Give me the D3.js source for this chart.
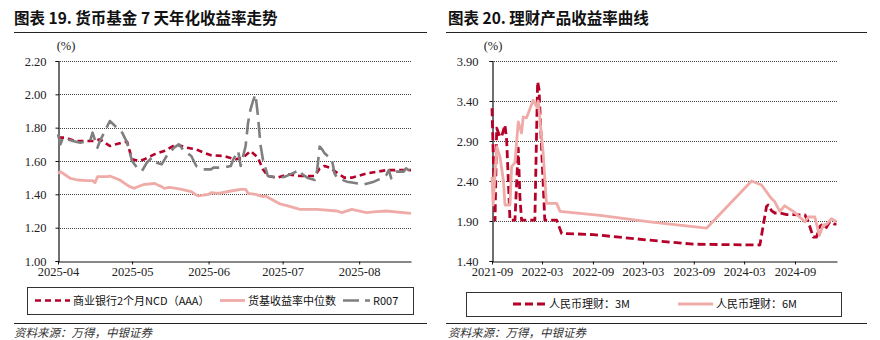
<!DOCTYPE html>
<html>
<head>
<meta charset="utf-8">
<script src="https://cdn.jsdelivr.net/npm/d3@7"></script>
<style>
  body { margin: 0; background: #fff; }
  svg { display: block; }
</style>
</head>
<body>
<svg id="chart" width="880" height="340"></svg>
<script>
// ---- Fig. 19: money-fund 7-day annualised yield (%) ----
const ncdDates = ["2025-04-01","2025-04-04","2025-04-08","2025-04-16","2025-04-18","2025-04-22","2025-04-27","2025-04-29","2025-05-01","2025-05-04","2025-05-06","2025-05-10","2025-05-14","2025-05-19","2025-05-21","2025-05-23","2025-05-27","2025-05-30","2025-06-02","2025-06-07","2025-06-12","2025-06-15","2025-06-18","2025-06-21","2025-06-23","2025-06-25","2025-06-29","2025-07-03","2025-07-08","2025-07-14","2025-07-16","2025-07-18","2025-07-20","2025-07-23","2025-07-26","2025-07-29","2025-08-04","2025-08-08","2025-08-12","2025-08-16","2025-08-19","2025-08-22"];
const ncdValues = [1.74,1.74,1.72,1.72,1.73,1.69,1.71,1.715,1.61,1.60,1.61,1.64,1.66,1.70,1.69,1.68,1.67,1.65,1.635,1.63,1.61,1.62,1.66,1.62,1.55,1.51,1.50,1.52,1.51,1.51,1.555,1.57,1.56,1.53,1.50,1.50,1.525,1.535,1.545,1.545,1.545,1.545];

const fundDates = ["2025-04-01","2025-04-02","2025-04-04","2025-04-06","2025-04-09","2025-04-13","2025-04-15","2025-04-16","2025-04-17","2025-04-21","2025-04-22","2025-04-26","2025-04-30","2025-05-02","2025-05-04","2025-05-06","2025-05-08","2025-05-10","2025-05-12","2025-05-13","2025-05-14","2025-05-16","2025-05-19","2025-05-21","2025-05-25","2025-05-27","2025-05-28","2025-05-30","2025-06-01","2025-06-02","2025-06-05","2025-06-10","2025-06-14","2025-06-16","2025-06-17","2025-06-20","2025-06-23","2025-06-24","2025-06-30","2025-07-02","2025-07-08","2025-07-15","2025-07-23","2025-07-25","2025-07-29","2025-08-04","2025-08-07","2025-08-12","2025-08-22"];
const fundValues = [1.526,1.536,1.516,1.496,1.486,1.482,1.482,1.47,1.506,1.506,1.51,1.486,1.446,1.436,1.45,1.46,1.462,1.466,1.452,1.446,1.436,1.442,1.436,1.43,1.416,1.396,1.39,1.396,1.40,1.41,1.406,1.42,1.43,1.43,1.406,1.40,1.386,1.39,1.342,1.335,1.31,1.31,1.30,1.29,1.31,1.29,1.295,1.30,1.286];

const r007Dates = ["2025-04-01","2025-04-02","2025-04-03","2025-04-07","2025-04-10","2025-04-14","2025-04-15","2025-04-17","2025-04-18","2025-04-20","2025-04-22","2025-04-27","2025-04-29","2025-05-01","2025-05-03","2025-05-05","2025-05-07","2025-05-09","2025-05-11","2025-05-13","2025-05-15","2025-05-18","2025-05-20","2025-05-22","2025-05-25","2025-05-27","2025-05-30","2025-06-02","2025-06-03","2025-06-07","2025-06-10","2025-06-11","2025-06-13","2025-06-14","2025-06-16","2025-06-17","2025-06-18","2025-06-19","2025-06-20","2025-06-21","2025-06-22","2025-06-23","2025-06-25","2025-06-29","2025-07-02","2025-07-05","2025-07-08","2025-07-09","2025-07-11","2025-07-14","2025-07-15","2025-07-16","2025-07-17","2025-07-18","2025-07-21","2025-07-22","2025-07-23","2025-07-27","2025-07-31","2025-08-02","2025-08-07","2025-08-10","2025-08-12","2025-08-13","2025-08-14","2025-08-16","2025-08-19","2025-08-20","2025-08-22"];
const r007Values = [1.76,1.70,1.74,1.72,1.71,1.72,1.77,1.68,1.72,1.78,1.84,1.77,1.71,1.60,1.56,1.54,1.59,1.62,1.59,1.58,1.63,1.68,1.70,1.66,1.63,1.57,1.55,1.55,1.56,1.56,1.57,1.61,1.66,1.57,1.69,1.83,1.91,1.96,2.00,1.87,1.70,1.61,1.51,1.50,1.506,1.526,1.546,1.52,1.50,1.486,1.546,1.686,1.67,1.646,1.606,1.526,1.50,1.476,1.466,1.456,1.476,1.496,1.516,1.546,1.496,1.536,1.536,1.556,1.536];

const leftYTicks = [1.00,1.20,1.40,1.60,1.80,2.00,2.20];
const leftXTicks = ["2025-04-01","2025-05-01","2025-06-01","2025-07-01","2025-08-01"];

// ---- Fig. 20: wealth-management product yield curves (%) ----
const wm3mDates = ["2021-09-01","2021-09-12","2021-09-18","2021-09-30","2021-10-07","2021-10-18","2021-10-24","2021-11-05","2021-11-23","2021-12-05","2021-12-11","2021-12-17","2022-02-03","2022-02-13","2022-02-18","2022-03-11","2022-04-23","2022-05-11","2022-09-02","2023-03-26","2023-08-30","2024-04-27","2024-05-21","2024-05-27","2024-06-08","2024-06-20","2024-07-08","2024-08-02","2024-10-07","2024-10-18","2024-11-06","2024-11-18","2024-11-30","2024-12-06","2024-12-18","2025-01-05","2025-01-23","2025-01-29"];
const wm3mValues = [3.31,1.91,3.06,2.95,2.97,3.10,2.91,1.91,1.91,2.81,2.20,1.91,1.91,3.64,3.55,1.91,1.91,1.745,1.73,1.66,1.61,1.60,2.08,2.10,2.03,2.00,2.00,1.98,1.975,1.90,1.70,1.70,1.83,1.85,1.79,1.89,1.86,1.86];

const wm6mDates = ["2021-09-01","2021-09-05","2021-09-18","2021-09-30","2021-10-12","2021-10-18","2021-11-05","2021-11-11","2021-11-23","2021-12-05","2021-12-17","2021-12-23","2022-01-04","2022-01-28","2022-02-09","2022-02-15","2022-03-05","2022-03-17","2022-04-23","2022-05-05","2022-09-27","2023-03-26","2023-10-17","2024-03-28","2024-05-03","2024-06-08","2024-06-20","2024-07-08","2024-07-26","2024-08-26","2024-10-07","2024-10-19","2024-11-12","2024-11-28","2024-12-12","2024-12-24","2025-01-11","2025-01-29"];
const wm6mValues = [2.45,2.10,2.83,2.70,2.41,2.10,2.10,2.58,2.63,3.14,3.00,3.20,3.19,3.41,3.33,3.40,2.75,2.12,2.12,2.02,1.97,1.89,1.81,2.40,2.35,2.18,2.14,2.02,2.09,2.02,1.89,1.95,1.95,1.72,1.85,1.86,1.93,1.89];

const rightYTicks = [1.40,1.90,2.40,2.90,3.40,3.90];
const rightXTicks = ["2021-09-01","2022-03-01","2022-09-01","2023-03-01","2023-09-01","2024-03-01","2024-09-01"];

const parse = d3.timeParse("%Y-%m-%d");
const svg = d3.select("#chart");
const SERIF = '"Times New Roman", "Liberation Serif", "DejaVu Serif", serif';
const CJK = '"Noto Sans CJK SC", "Noto Sans", sans-serif';

function zip(dates, values) {
  return dates.map((d, i) => ({ date: parse(d), value: values[i] }));
}

function drawPanel(cfg) {
  const g = svg.append("g");
  const x = d3.scaleTime().domain(cfg.xDomain.map(parse)).range([cfg.left, cfg.right]);
  const y = d3.scaleLinear().domain(cfg.yDomain).range([cfg.bottom, cfg.top]);

  // title and rule
  g.append("text").attr("x", cfg.titleX).attr("y", 24)
    .style("font-family", CJK).style("font-weight", 700).style("font-size", "15.5px")
    .attr("fill", "#111").text(cfg.title);
  g.append("line").attr("x1", cfg.ruleX[0]).attr("x2", cfg.ruleX[1])
    .attr("y1", 32.5).attr("y2", 32.5).attr("stroke", "#222").attr("stroke-width", 1.2);

  // unit label
  g.append("text").attr("x", cfg.unitX).attr("y", 49.5).attr("text-anchor", "middle")
    .style("font-family", SERIF).style("font-size", "12.5px").attr("fill", "#222").text("(%)");

  // dotted gridlines
  g.append("g").selectAll("line")
    .data(cfg.yTicks.slice(1)).join("line")
    .attr("x1", cfg.left).attr("x2", cfg.right)
    .attr("y1", d => Math.round(y(d)) + 0.5).attr("y2", d => Math.round(y(d)) + 0.5)
    .attr("stroke", "#444").attr("stroke-width", 1).attr("stroke-dasharray", "1,1");

  // y axis
  const ya = g.append("g").attr("transform", `translate(${cfg.left + 0.5},0)`)
    .call(d3.axisLeft(y).tickValues(cfg.yTicks).tickFormat(d3.format(".2f"))
      .tickSize(3).tickPadding(cfg.yPad));
  ya.attr("font-family", null).attr("font-size", null);
  ya.select(".domain").attr("stroke", "#111").attr("stroke-width", 1.2);
  ya.selectAll(".tick line").attr("stroke", "#111");
  ya.selectAll("text").style("font-family", SERIF).style("font-size", "12.5px").attr("fill", "#222");

  // x axis
  const xa = g.append("g").attr("transform", `translate(0,${cfg.bottom + 0.5})`)
    .call(d3.axisBottom(x).tickValues(cfg.xTicks.map(parse)).tickFormat(d3.timeFormat("%Y-%m"))
      .tickSize(3).tickPadding(3).tickSizeOuter(0));
  xa.attr("font-family", null).attr("font-size", null);
  xa.select(".domain").attr("stroke", "#111").attr("stroke-width", 1.2);
  xa.selectAll(".tick line").attr("stroke", "#111");
  xa.selectAll("text").style("font-family", SERIF).style("font-size", "12.5px").attr("fill", "#222");

  // series
  const line = d3.line().x(d => x(d.date)).y(d => y(d.value));
  cfg.series.forEach(s => {
    g.append("path").datum(s.data).attr("d", line)
      .attr("fill", "none").attr("stroke", s.color).attr("stroke-width", s.width)
      .attr("stroke-dasharray", s.dash || null)
      .attr("stroke-linejoin", "round");
  });

  // legend
  const lg = g.append("g");
  lg.append("rect").attr("x", cfg.legend.x + 0.5).attr("y", cfg.legend.y + 0.5)
    .attr("width", cfg.legend.w).attr("height", cfg.legend.h)
    .attr("fill", "#fff").attr("stroke", "#333").attr("stroke-width", 1);
  const cy = cfg.legend.y + cfg.legend.h / 2;
  cfg.series.forEach((s, i) => {
    const it = cfg.legend.items[i];
    lg.append("line").attr("x1", it.x).attr("x2", it.x + it.len)
      .attr("y1", cy).attr("y2", cy)
      .attr("stroke", s.color).attr("stroke-width", s.width)
      .attr("stroke-dasharray", s.legendDash || s.dash || null);
    lg.append("text").attr("x", it.x + it.len + 3).attr("y", cy + 4)
      .style("font-family", CJK).style("font-size", "11px").attr("fill", "#111").text(s.name);
  });

  // footer rule and source
  g.append("line").attr("x1", cfg.ruleX[0]).attr("x2", cfg.ruleX[1])
    .attr("y1", 323.5).attr("y2", 323.5).attr("stroke", "#222").attr("stroke-width", 1.2);
  g.append("text").attr("x", cfg.titleX).attr("y", 337)
    .style("font-family", CJK).style("font-style", "italic").style("font-size", "11.5px")
    .attr("fill", "#333").text("资料来源：万得，中银证券");
}

drawPanel({
  title: "图表 19. 货币基金 7 天年化收益率走势",
  titleX: 14, ruleX: [14, 427], unitX: 66,
  left: 58, right: 411, top: 61, bottom: 261, yPad: 9,
  xDomain: ["2025-04-01", "2025-08-22"], yDomain: [1.0, 2.2],
  yTicks: leftYTicks, xTicks: leftXTicks,
  series: [
    { name: "商业银行2个月NCD（AAA）", data: zip(ncdDates, ncdValues), color: "#b5002a", width: 2.6, dash: "6,4" },
    { name: "货基收益率中位数", data: zip(fundDates, fundValues), color: "#efaba8", width: 2.8 },
    { name: "R007", data: zip(r007Dates, r007Values), color: "#7f7f7f", width: 2.6, dash: "16,7", legendDash: "16,6,6,6" }
  ],
  legend: { x: 27, y: 287, w: 386, h: 27,
    items: [{ x: 35, len: 35 }, { x: 220, len: 25 }, { x: 343, len: 27 }] }
});

drawPanel({
  title: "图表 20. 理财产品收益率曲线",
  titleX: 448, ruleX: [446, 867], unitX: 493,
  left: 492, right: 837, top: 61, bottom: 261, yPad: 11,
  xDomain: ["2021-09-01", "2025-01-31"], yDomain: [1.4, 3.9],
  yTicks: rightYTicks, xTicks: rightXTicks,
  series: [
    { name: "人民币理财：3M", data: zip(wm3mDates, wm3mValues), color: "#b5002a", width: 2.8, dash: "8,4" },
    { name: "人民币理财：6M", data: zip(wm6mDates, wm6mValues), color: "#efaba8", width: 2.8 }
  ],
  legend: { x: 466, y: 292, w: 375, h: 24,
    items: [{ x: 513, len: 33 }, { x: 678, len: 35 }] }
});
</script>
</body>
</html>
